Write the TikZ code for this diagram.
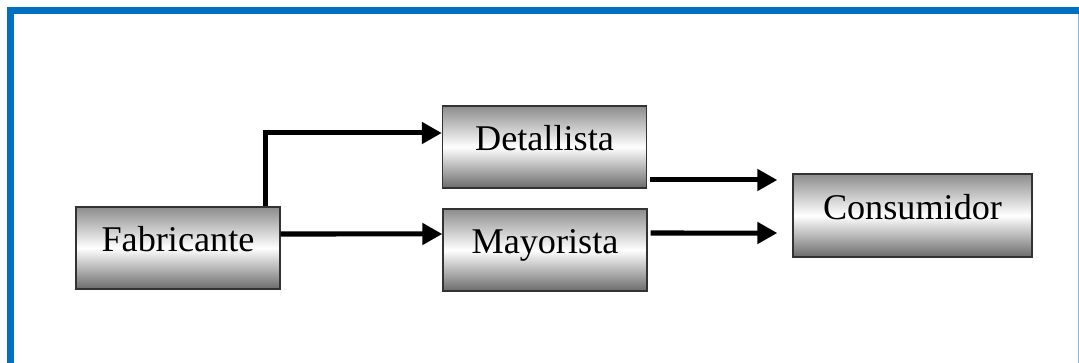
\documentclass[tikz,border=0pt]{standalone}
\usepackage{fontspec}
\setmainfont{Liberation Serif}
\usepackage{tikz}
\usetikzlibrary{arrows.meta, calc}
\usepackage[dvipsnames]{xcolor}

\definecolor{marco}{RGB}{0,112,192}
\definecolor{marcoclaro}{RGB}{130,190,235}

\tikzset{
  bloque/.style={draw=black!80, line width=0.8pt, top color=black!45, bottom color=black!58, middle color=white,
    minimum width=4.08cm, minimum height=1.64cm, inner sep=0pt, text height=0.5cm, text depth=0.35cm,
    font=\fontsize{20.6}{24}\selectfont},
  flecha/.style={->, line width=0.1cm}
}

\begin{document}
\begin{tikzpicture}[>={Triangle[length=0.4cm, width=0.42cm]}]
\useasboundingbox (0,0) rectangle (21.58,7.24);
% blue frame
\draw[marco, line width=0.14cm] (0.21,-0.2) -- (0.21,7.03) -- (21.7,7.03);
\draw[marcoclaro, line width=0.02cm] (21.56,6.96) -- (21.56,-0.2);
% blocks
\node[bloque] (fab) at (3.56,2.28) {Fabricante};
\node[bloque] (det) at (10.89,4.30) {Detallista};
\node[bloque] (may) at (10.90,2.24) {Mayorista};
\node[bloque, minimum width=4.78cm, minimum height=1.66cm] (con) at (18.25,2.93) {Consumidor};
% arrows
\draw[flecha] ([xshift=1.74cm]fab.north) |- ([yshift=0.28cm]det.west);
\draw[flecha] ([yshift=0.28cm]fab.east) -- ([yshift=0.32cm]may.west);
\draw[flecha, shorten <=0.06cm, shorten >=0.3cm] ([yshift=-0.66cm]det.east) -- ([yshift=0.71cm]con.west);
\draw[flecha, shorten <=0.06cm, shorten >=0.3cm] ([yshift=0.34cm]may.east) -- ([yshift=-0.35cm]con.west);
\end{tikzpicture}
\end{document}
